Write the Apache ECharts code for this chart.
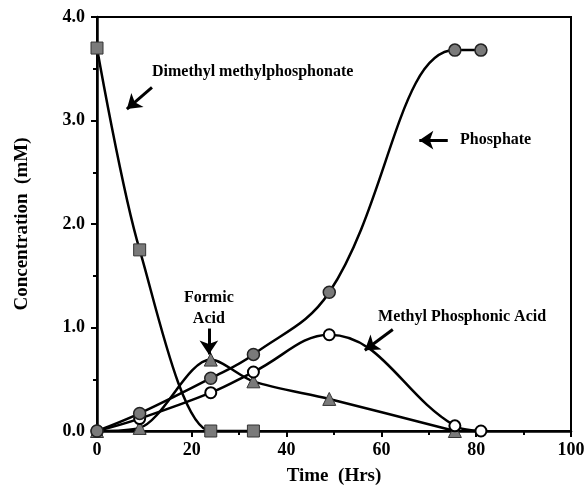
<!DOCTYPE html>
<html>
<head>
<meta charset="utf-8">
<script src="https://cdn.jsdelivr.net/npm/echarts@6/dist/echarts.min.js"></script>
<style>
  body { margin: 0; background: #fff; }
  #chart { width: 584px; height: 493px; }
</style>
</head>
<body>
<div id="chart"></div>
<script>
// time (hrs) / concentration (mM)
var dmmp = [[0, 3.7], [9, 1.75], [24, 0], [33, 0]];
var phosphate = [[0, 0], [9, 0.17], [24, 0.51], [33, 0.74], [49, 1.34], [75.5, 3.68], [81, 3.68]];
var mpa = [[0, 0], [9, 0.12], [24, 0.37], [33, 0.57], [49, 0.93], [75.5, 0.05], [81, 0]];
var formic = [[0, 0], [9, 0.03], [24, 0.69], [33, 0.48], [49, 0.31], [75.5, 0]];

var yTicks = [0, 1, 2, 3, 4];
var xTicks = [0, 20, 40, 60, 80, 100];

var font = "Liberation Serif";
var grey = "#7a7a7a";

function arrow(from, to) {
  return [{ coord: from, symbol: "none" }, { coord: to, symbol: "arrow" }];
}
function note(text, at, align) {
  return {
    coord: at,
    symbol: "circle",
    symbolSize: 0,
    label: {
      show: true,
      formatter: text,
      position: "inside",
      align: align || "left",
      color: "#000",
      fontFamily: font,
      fontWeight: "bold",
      fontSize: 16
    }
  };
}

var chart = echarts.init(document.getElementById("chart"));
chart.setOption({
  animation: false,
  grid: {
    left: 97, right: 13, top: 17, bottom: 62,
    outerBoundsMode: "none",
    show: true, borderColor: "#000", borderWidth: 2
  },
  xAxis: {
    type: "value",
    min: 0, max: 100, interval: 20,
    name: "Time  (Hrs)",
    nameLocation: "middle",
    nameGap: 36,
    nameTextStyle: { fontFamily: font, fontWeight: "bold", fontSize: 19, color: "#000" },
    axisLine: { lineStyle: { color: "#000", width: 2.5 } },
    axisTick: { length: 6, lineStyle: { width: 2 } },
    minorTick: { show: true, splitNumber: 2, length: 4, lineStyle: { color: "#000", width: 2 } },
    splitLine: { show: false },
    axisLabel: { fontFamily: font, fontWeight: "bold", fontSize: 18, color: "#000", margin: 10 }
  },
  yAxis: {
    type: "value",
    min: 0, max: 4, interval: 1,
    name: "Concentration  (mM)",
    nameLocation: "middle",
    nameGap: 65,
    nameTextStyle: { fontFamily: font, fontWeight: "bold", fontSize: 19, color: "#000" },
    axisLine: { lineStyle: { color: "#000", width: 2.5 } },
    axisTick: { length: 6, lineStyle: { width: 2 } },
    minorTick: { show: true, splitNumber: 2, length: 4, lineStyle: { color: "#000", width: 2 } },
    splitLine: { show: false },
    axisLabel: {
      fontFamily: font, fontWeight: "bold", fontSize: 18, color: "#000", margin: 12,
      formatter: function (v) { return v.toFixed(1); }
    }
  },
  series: [
    {
      name: "Dimethyl methylphosphonate",
      type: "line",
      data: dmmp,
      smooth: 0.3,
      symbol: "rect",
      symbolSize: 12,
      lineStyle: { color: "#000", width: 2.5 },
      itemStyle: { color: grey, borderColor: "#333", borderWidth: 1 },
      z: 3
    },
    {
      name: "Formic Acid",
      type: "line",
      data: formic,
      smooth: 0.3,
      symbol: "triangle",
      symbolSize: 13,
      lineStyle: { color: "#000", width: 2.5 },
      itemStyle: { color: grey, borderColor: "#333", borderWidth: 1 },
      z: 3
    },
    {
      name: "Methyl Phosphonic Acid",
      type: "line",
      data: mpa,
      smooth: 0.4,
      symbol: "circle",
      symbolSize: 11,
      showAllSymbol: true,
      lineStyle: { color: "#000", width: 2.5 },
      itemStyle: { color: "#fff", borderColor: "#000", borderWidth: 2 },
      z: 4
    },
    {
      name: "Phosphate",
      type: "line",
      data: phosphate,
      smooth: 0.4,
      symbol: "circle",
      symbolSize: 12,
      lineStyle: { color: "#000", width: 2.5 },
      itemStyle: { color: grey, borderColor: "#222", borderWidth: 1.5 },
      z: 5,
      markLine: {
        silent: true,
        symbolSize: 14,
        label: { show: false },
        lineStyle: { color: "#000", width: 3, type: "solid" },
        data: [
          arrow([11.6, 3.32], [6.3, 3.11]),
          arrow([74.0, 2.81], [68.0, 2.81]),
          arrow([23.6, 0.99], [23.6, 0.74]),
          arrow([62.4, 0.98], [56.5, 0.78])
        ]
      },
      markPoint: {
        silent: true,
        data: [
          note("Dimethyl methylphosphonate", [11.6, 3.47]),
          note("Phosphate", [76.6, 2.81]),
          note("Formic", [23.6, 1.29], "center"),
          note("Acid", [23.6, 1.08], "center"),
          note("Methyl Phosphonic Acid", [59.3, 1.10])
        ]
      }
    }
  ]
});
</script>
</body>
</html>
